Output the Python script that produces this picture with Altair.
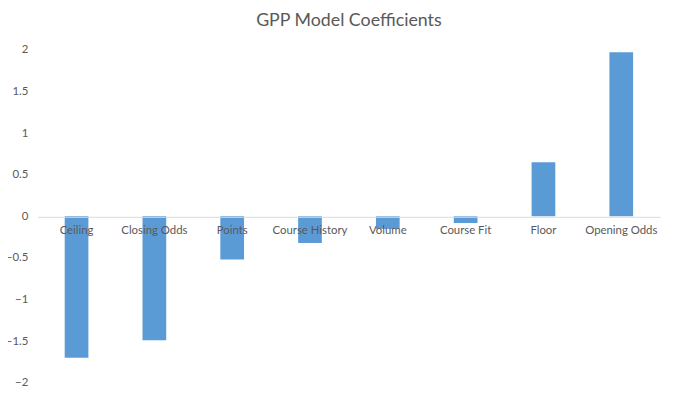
import altair as alt
import pandas as pd

categories = ["Ceiling", "Closing Odds", "Points", "Course History", "Volume", "Course Fit", "Floor", "Opening Odds"]
values = [-1.70, -1.49, -0.52, -0.32, -0.15, -0.08, 0.65, 1.97]

df = pd.DataFrame({"category": categories, "value": values})

FONT = "Lato"
GRAY = "#595959"

bars = alt.Chart(df).mark_bar(color="#5B9BD5", size=24).encode(
    x=alt.X("category:N", sort=categories, title=None,
            scale=alt.Scale(paddingInner=0, paddingOuter=0),
            axis=alt.Axis(orient="bottom", offset=-168, labelAngle=0, ticks=False,
                          domainColor="#D9D9D9", domainWidth=1, zindex=1,
                          labelColor=GRAY, labelFont=FONT, labelFontSize=11.5,
                          labelPadding=8, labelBaseline="top")),
    y=alt.Y("value:Q", title=None,
            scale=alt.Scale(domain=[-2, 2], nice=False, zero=True),
            axis=alt.Axis(values=[-2, -1.5, -1, -0.5, 0, 0.5, 1, 1.5, 2], grid=False,
                          domain=False, ticks=False, labelColor=GRAY, labelFont=FONT,
                          labelFontSize=11.5, labelPadding=10, format="~g")),
)

chart = bars.properties(
    width=630, height=337,
    title=alt.TitleParams("GPP Model Coefficients", font=FONT, fontSize=18,
                          fontWeight="normal", color=GRAY, anchor="middle", offset=14),
    autosize=alt.AutoSizeParams(type="none"),
    padding={"left": 30, "top": 40, "right": 14, "bottom": 10},
).configure_view(stroke=None)

chart.save("out.html", embed_options={"renderer": "svg", "actions": False})
